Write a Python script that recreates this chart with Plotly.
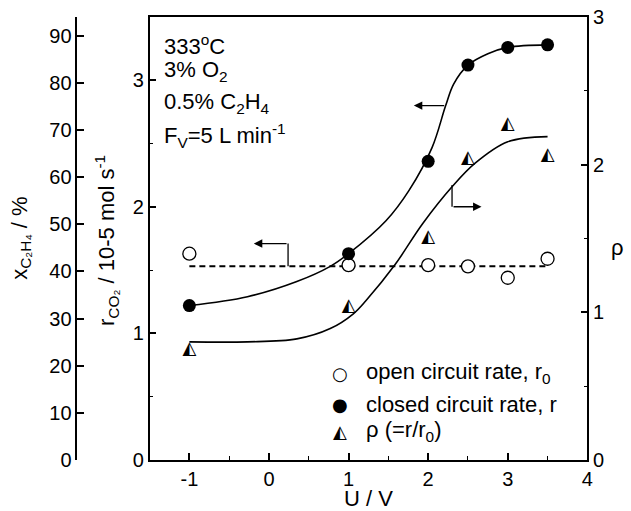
import plotly.graph_objects as go

# ---- data ----
U = [-1, 1, 2, 2.5, 3, 3.5]
r_open = [1.63, 1.54, 1.54, 1.53, 1.44, 1.59]
r_closed = [1.22, 1.63, 2.36, 3.12, 3.26, 3.28]
rho = [0.75, 1.04, 1.51, 2.04, 2.27, 2.06]

# dashed mean line of open-circuit rate
dash_U = [-1, 3.5]
dash_r = [1.53, 1.53]

# smooth fit curves
fit_r_U = [-1, -0.27, 0.35, 0.77, 1.0, 1.47, 1.76, 2.05, 2.22, 2.32, 2.5, 2.75, 3.0, 3.5]
fit_r = [1.22, 1.29, 1.41, 1.53, 1.63, 1.89, 2.13, 2.47, 2.80, 2.97, 3.12, 3.21, 3.26, 3.28]
fit_rho_U = [-1, -0.27, 0.35, 0.77, 1.06, 1.22, 1.58, 1.93, 2.30, 2.59, 3.0, 3.5]
fit_rho = [0.80, 0.80, 0.82, 0.89, 0.99, 1.08, 1.32, 1.60, 1.85, 2.01, 2.155, 2.19]

x_ticks = [-1, 0, 1, 2, 3, 4]
x_ticktext = ["-1", "0", "1", "2", "3", "4"]
r_ticks = [0, 1, 2, 3]
rho_ticks = [0, 1, 2, 3]
xc_ticks = [0, 10, 20, 30, 40, 50, 60, 70, 80, 90]

FONT = "Liberation Sans, Arial, sans-serif"
W, H = 631, 511
ML, MR, MT, MB = 0, 0, 17, 51
PH = H - MT - MB


def px(xp):
    return xp / W


def py(yp):
    return (H - MB - yp) / PH


fig = go.Figure()

fig.add_trace(go.Scatter(x=fit_r_U, y=fit_r, mode="lines", line=dict(color="black", width=1.6, shape="spline"),
                         showlegend=False, hoverinfo="skip"))
fig.add_trace(go.Scatter(x=fit_rho_U, y=fit_rho, mode="lines", yaxis="y2",
                         line=dict(color="black", width=1.6, shape="spline"), showlegend=False, hoverinfo="skip"))
fig.add_trace(go.Scatter(x=dash_U, y=dash_r, mode="lines", line=dict(color="black", width=2, dash="6px,4px"),
                         showlegend=False, hoverinfo="skip"))
fig.add_trace(go.Scatter(x=U, y=r_open, mode="markers", name="open circuit rate, r0",
                         marker=dict(symbol="circle", size=13, color="white", line=dict(color="black", width=1.3)),
                         showlegend=False))
fig.add_trace(go.Scatter(x=U, y=r_closed, mode="markers", name="closed circuit rate, r",
                         marker=dict(symbol="circle", size=13, color="black"), showlegend=False))
fig.add_trace(go.Scatter(x=U, y=rho, mode="text", yaxis="y2", text=["\u25ED"] * len(U),
                         textposition="middle center",
                         textfont=dict(family="DejaVu Sans", size=18, color="black"),
                         name="\u03c1 (=r/r0)", showlegend=False))
# invisible trace so the conversion axis is drawn
fig.add_trace(go.Scatter(x=[0], y=[0], yaxis="y3", mode="markers", marker=dict(opacity=0),
                         showlegend=False, hoverinfo="skip"))

axis_common = dict(showline=True, linecolor="black", linewidth=1.5, ticks="inside", ticklen=7, tickwidth=1.5,
                   tickcolor="black", showgrid=False, zeroline=False,
                   tickfont=dict(family=FONT, size=20, color="black"))

fig.update_layout(
    width=W, height=H, autosize=False,
    margin=dict(l=ML, r=MR, t=MT, b=MB, pad=0),
    paper_bgcolor="white", plot_bgcolor="white",
    showlegend=False,
    xaxis=dict(domain=[px(151), px(593)], range=[-1.5, 4], tickvals=x_ticks, ticktext=x_ticktext, mirror=True,
               minor=dict(ticks="inside", ticklen=4, tickwidth=1.3, dtick=0.5, tick0=-1.5, tickcolor="black"),
               **axis_common),
    yaxis=dict(range=[0, 3.5], tickvals=r_ticks, anchor="x", side="left",
               minor=dict(ticks="inside", ticklen=4, tickwidth=1.3, dtick=0.5, tick0=0, tickcolor="black"),
               **axis_common),
    yaxis2=dict(range=[0, 3], tickvals=rho_ticks, anchor="x", side="right", overlaying="y",
                minor=dict(ticks="inside", ticklen=4, tickwidth=1.3, dtick=0.5, tick0=0, tickcolor="black"),
                **axis_common),
    yaxis3=dict(range=[0, 94], tickvals=xc_ticks, anchor="free", position=px(77), side="left", overlaying="y",
                **axis_common),
)

ann = []
# axis titles
ann.append(dict(text="U / V", xref="paper", yref="paper", x=px(372), y=py(498), xanchor="center",
                yanchor="middle", showarrow=False, font=dict(family=FONT, size=22, color="black")))
ann.append(dict(text="x<sub>C\u2082H\u2084</sub> / %",
                xref="paper", yref="paper", x=px(21), y=py(238),
                xanchor="center", yanchor="middle", textangle=-90, showarrow=False,
                font=dict(family=FONT, size=22, color="black")))
ann.append(dict(text="r<sub>CO\u2082</sub> / 10-5 mol s<sup>-1</sup>",
                xref="paper", yref="paper",
                x=px(107), y=py(240), xanchor="center", yanchor="middle", textangle=-90, showarrow=False,
                font=dict(family=FONT, size=22, color="black")))
ann.append(dict(text="\u03c1", xref="paper", yref="paper", x=px(623), y=py(247), xanchor="center",
                yanchor="middle", showarrow=False, font=dict(family=FONT, size=22, color="black")))

# condition text block
cond = ["333<sup>o</sup>C", "3% O<sub>2</sub>", "0.5% C<sub>2</sub>H<sub>4</sub>", "F<sub>V</sub>=5 L min<sup>-1</sup>"]
cond_y = [45, 71, 103, 135]
for t, yy in zip(cond, cond_y):
    ann.append(dict(text=t, xref="paper", yref="paper", x=px(164), y=py(yy), xanchor="left", yanchor="middle",
                    showarrow=False, font=dict(family=FONT, size=22, color="black")))

# legend (built from annotations)
leg_sym = ["\u25CB", "\u25CF", "\u25ED"]
leg_txt = ["open circuit rate, r<sub>0</sub>", "closed circuit rate, r", "\u03c1 (=r/r<sub>0</sub>)"]
leg_y = [373, 404, 431]
for s, t, yy in zip(leg_sym, leg_txt, leg_y):
    ann.append(dict(text=s, xref="paper", yref="paper", x=px(343), y=py(yy), xanchor="center", yanchor="middle",
                    showarrow=False, font=dict(family="DejaVu Sans", size=18, color="black")))
    ann.append(dict(text=t, xref="paper", yref="paper", x=px(367), y=py(yy), xanchor="left", yanchor="middle",
                    showarrow=False, font=dict(family=FONT, size=22, color="black")))

# arrows
arrow_style = dict(showarrow=True, arrowhead=2, arrowsize=1.3, arrowwidth=1.3, arrowcolor="black", text="")
ann.append(dict(x=-0.19, y=1.71, ax=0.24, ay=1.71, xref="x", yref="y", axref="x", ayref="y", **arrow_style))
ann.append(dict(x=1.82, y=2.80, ax=2.22, ay=2.80, xref="x", yref="y", axref="x", ayref="y", **arrow_style))
ann.append(dict(x=2.67, y=1.715, ax=2.30, ay=1.715, xref="x", yref="y2", axref="x", ayref="y2", **arrow_style))
fig.update_layout(annotations=ann)

shapes = [
    dict(type="line", xref="x", yref="y", x0=0.24, x1=0.24, y0=1.53, y1=1.71, line=dict(color="black", width=1.3)),
    dict(type="line", xref="x", yref="y2", x0=2.30, x1=2.30, y0=1.862, y1=1.715, line=dict(color="black", width=1.3)),
]
fig.update_layout(shapes=shapes)

fig.write_html("out.html", config={"displayModeBar": False},
               post_script="document.body.style.margin='0px';document.body.style.overflow='hidden';")
